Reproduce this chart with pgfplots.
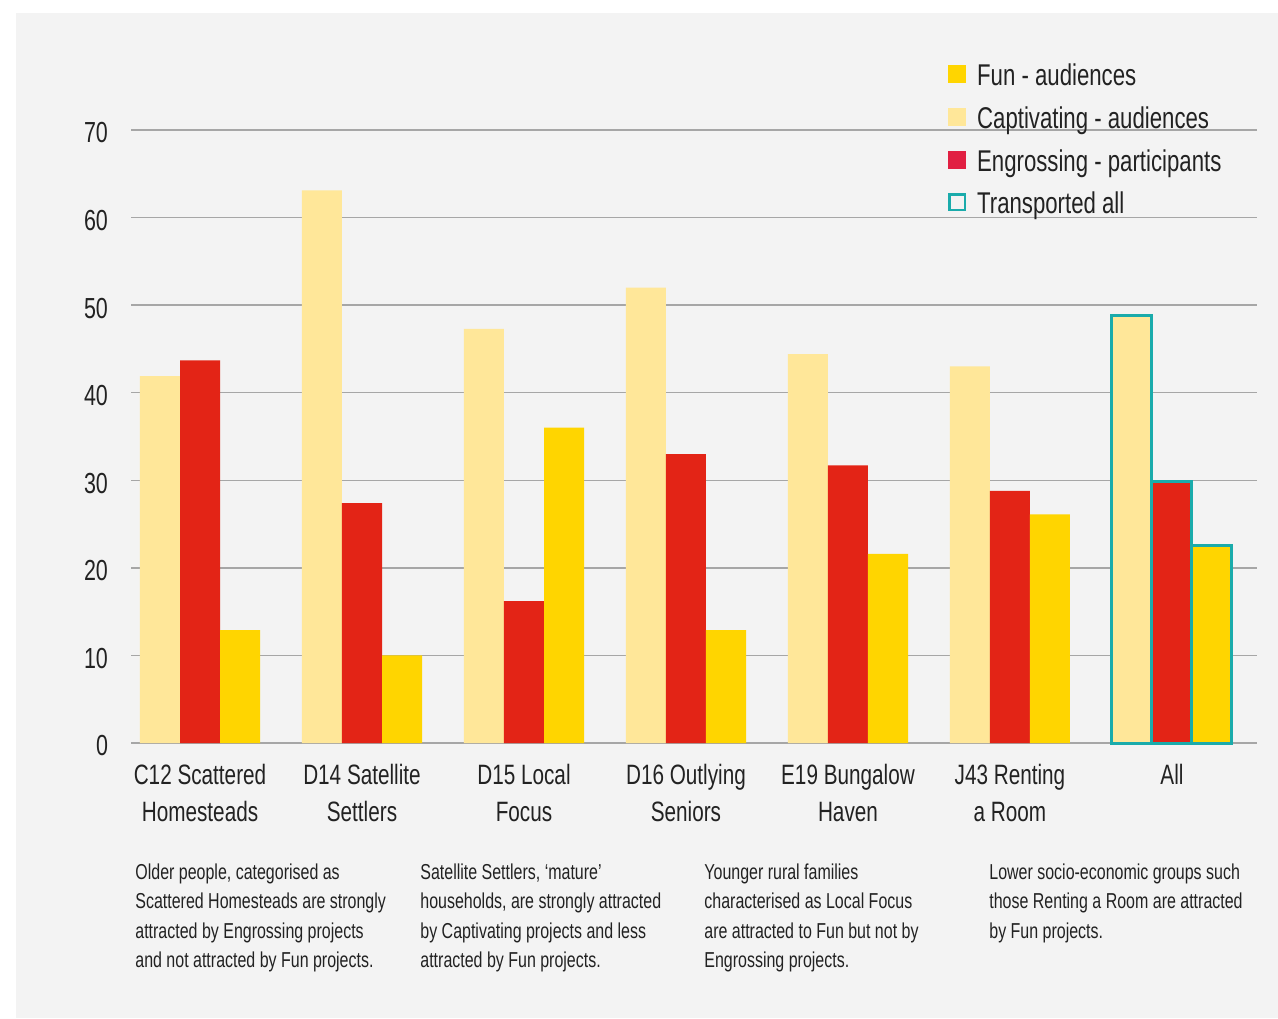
\documentclass[border=0pt]{standalone}
\usepackage{fontspec}
\setmainfont[FakeStretch=0.74]{Liberation Sans}
\usepackage{pgfplots}
\pgfplotsset{compat=1.18}
\definecolor{bg}{HTML}{F3F3F3}
\definecolor{capt}{HTML}{FFE799}
\definecolor{engr}{HTML}{E32416}
\definecolor{engleg}{HTML}{E11F42}
\definecolor{fun}{HTML}{FFD500}
\definecolor{teal2}{HTML}{1AABAB}
\definecolor{txt}{HTML}{222222}
\definecolor{gridc}{HTML}{A6A6A6}
\begin{document}
\begin{tikzpicture}[x=1pt,y=1pt]
\useasboundingbox (0,0) rectangle (639,509);
\fill[white] (0,0) rectangle (639,509);
\fill[bg] (8,0) rectangle (639,502.5);
\begin{axis}[
  at={(65.5pt,137.5pt)}, anchor=south west,
  scale only axis, width=563pt, height=306.5pt,
  xmin=-0.426, xmax=6.525, ymin=0, ymax=70,
  axis line style={draw=none},
  major tick length=0pt,
  ytick={0,10,...,70},
  ymajorgrids, grid style={gridc, line width=0.7pt},
  xtick={0,...,6},
  xticklabels={{C12 Scattered\\Homesteads},{D14 Satellite\\Settlers},{D15 Local\\Focus},{D16 Outlying\\Seniors},{E19 Bungalow\\Haven},{J43 Renting\\a Room},{All}},
  xticklabel style={align=center, anchor=north, yshift=-7pt, font=\fontsize{14}{18.5}\selectfont, text=txt},
  yticklabel style={anchor=east, xshift=-8pt, yshift=-1.5pt, font=\fontsize{14.5}{16}\selectfont, text=txt},
  /pgf/number format/assume math mode=true,
  legend style={at={(0.72,1.1217)}, anchor=north west, draw=none, fill=none, font=\fontsize{15}{18}\selectfont, text=txt, row sep=5pt, legend cell align=left},
  clip=false,
]
\addlegendimage{legend image code/.code={\path[draw=none,fill=none] (0pt,0pt) -- (12.5pt,0pt);\fill[fun,draw=none] (0pt,-3.5pt) rectangle (9pt,5.5pt);}}
\addlegendentry{Fun - audiences}
\addlegendimage{legend image code/.code={\path[draw=none,fill=none] (0pt,0pt) -- (12.5pt,0pt);\fill[capt,draw=none] (0pt,-3.5pt) rectangle (9pt,5.5pt);}}
\addlegendentry{Captivating - audiences}
\addlegendimage{legend image code/.code={\path[draw=none,fill=none] (0pt,0pt) -- (12.5pt,0pt);\fill[engleg,draw=none] (0pt,-3.5pt) rectangle (9pt,5.5pt);}}
\addlegendentry{Engrossing - participants}
\addlegendimage{legend image code/.code={\path[draw=none,fill=none] (0pt,0pt) -- (12.5pt,0pt);\draw[teal2, fill=none, line width=1.2pt] (0.6pt,-2.9pt) rectangle (8.4pt,4.9pt);}}
\addlegendentry{Transported all}

\addplot[ybar, bar width=0.247, bar shift=-0.247, fill=capt, draw=none, forget plot] coordinates {(0,41.9) (1,63.1) (2,47.3) (3,52.0) (4,44.4) (5,43.0)};
\addplot[ybar, bar width=0.247, bar shift=0, fill=engr, draw=none, forget plot] coordinates {(0,43.7) (1,27.4) (2,16.2) (3,33.0) (4,31.7) (5,28.8)};
\addplot[ybar, bar width=0.247, bar shift=0.247, fill=fun, draw=none, forget plot] coordinates {(0,12.9) (1,10.0) (2,36.0) (3,12.9) (4,21.6) (5,26.1)};
\addplot[ybar, bar width=0.247, bar shift=-0.247, fill=capt, draw=teal2, line width=1.5pt, forget plot] coordinates {(6,48.8)};
\addplot[ybar, bar width=0.247, bar shift=0, fill=engr, draw=teal2, line width=1.5pt, forget plot] coordinates {(6,29.9)};
\addplot[ybar, bar width=0.247, bar shift=0.247, fill=fun, draw=teal2, line width=1.5pt, forget plot] coordinates {(6,22.5)};
\end{axis}
\begin{scope}[every node/.style={anchor=north west, align=left, inner sep=0pt, font=\fontsize{10.8}{14.75}\selectfont, text=txt}]
\node at (67.5,77.5) {Older people, categorised as\\Scattered Homesteads are strongly\\attracted by Engrossing projects\\and not attracted by Fun projects.};
\node at (210,77.5) {Satellite Settlers, ‘mature’\\households, are strongly attracted\\by Captivating projects and less\\attracted by Fun projects.};
\node at (352,77.5) {Younger rural families\\characterised as Local Focus\\are attracted to Fun but not by\\Engrossing projects.};
\node at (494.5,77.5) {Lower socio-economic groups such\\those Renting a Room are attracted\\by Fun projects.};
\end{scope}
\end{tikzpicture}
\end{document}
